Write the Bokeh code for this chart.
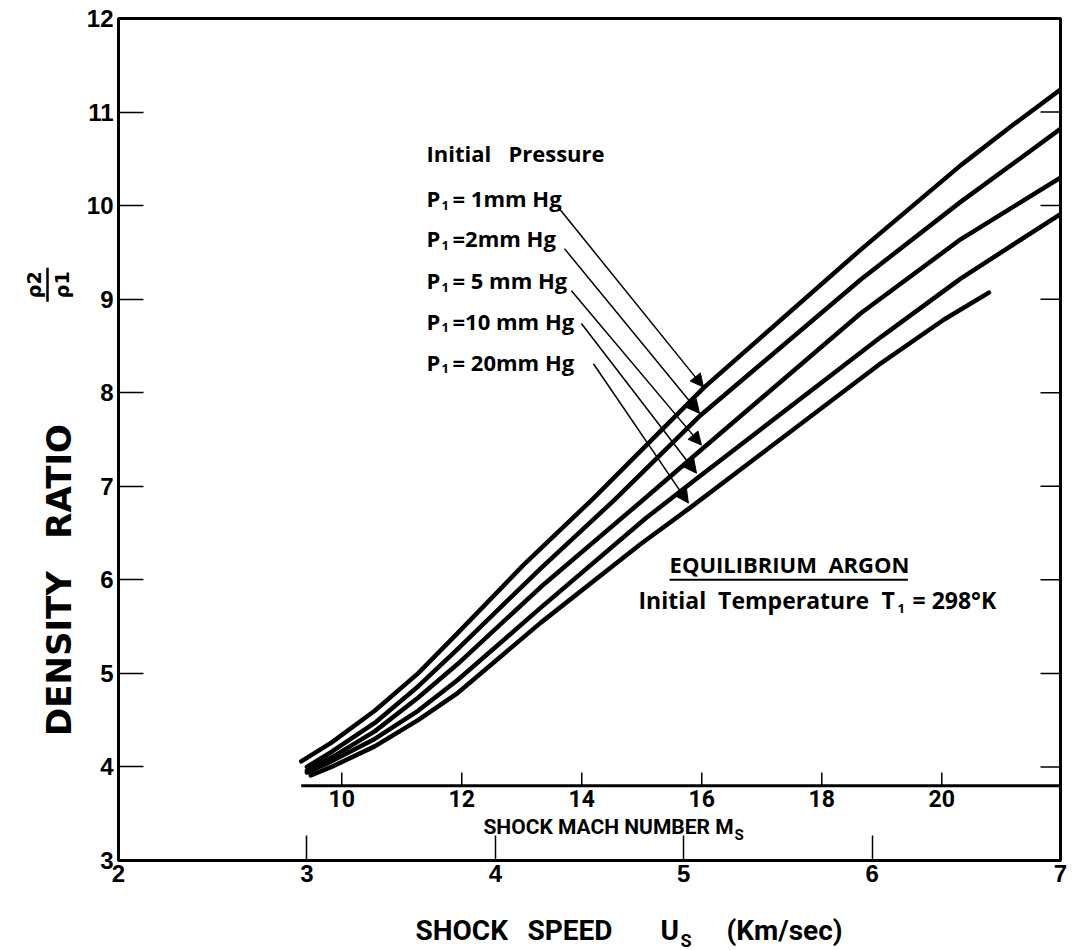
import math
from bokeh.plotting import figure
from bokeh.layouts import row, column
from bokeh.models import Label, FixedTicker, Arrow, NormalHead, Range1d
from bokeh.embed import file_html
from bokeh.resources import INLINE
from bokeh.core.properties import value

# ---------------- data ----------------
# Shock speed U_s (km/sec) vs density ratio rho2/rho1, equilibrium argon, T1 = 298 K
us_1mm = [2.97, 3.13, 3.36, 3.59, 3.80, 4.15, 4.51, 5.11, 5.94, 6.47, 6.74, 7.00]
rho_1mm = [4.06, 4.26, 4.60, 5.00, 5.43, 6.16, 6.85, 8.06, 9.53, 10.43, 10.85, 11.24]
us_2mm = [3.00, 3.13, 3.36, 3.59, 3.80, 4.24, 4.63, 5.09, 5.94, 6.47, 7.00]
rho_2mm = [4.00, 4.16, 4.47, 4.86, 5.26, 6.12, 6.85, 7.76, 9.21, 10.04, 10.82]
us_5mm = [3.00, 3.13, 3.36, 3.59, 3.80, 4.24, 4.77, 5.11, 5.94, 6.47, 7.00]
rho_5mm = [3.96, 4.10, 4.38, 4.74, 5.10, 5.92, 6.83, 7.42, 8.85, 9.64, 10.30]
us_10mm = [3.00, 3.13, 3.36, 3.59, 3.80, 4.24, 4.80, 5.08, 6.05, 6.47, 7.00]
rho_10mm = [3.94, 4.06, 4.30, 4.60, 4.93, 5.70, 6.66, 7.10, 8.60, 9.22, 9.91]
us_20mm = [3.02, 3.13, 3.36, 3.59, 3.80, 4.24, 4.77, 5.04, 6.05, 6.38, 6.62]
rho_20mm = [3.91, 4.00, 4.22, 4.50, 4.79, 5.54, 6.38, 6.78, 8.32, 8.78, 9.07]

pressure_labels = ["= 1mm Hg", "=2mm Hg", "= 5 mm Hg", "=10 mm Hg", "= 20mm Hg"]
label_rho = [10.08, 9.65, 9.20, 8.77, 8.33]

# arrows from each pressure label to its curve
arrow_from_us = [4.335, 4.367, 4.404, 4.457, 4.521]
arrow_from_rho = [9.98, 9.54, 9.09, 8.74, 8.31]
arrow_to_us = [5.105, 5.084, 5.094, 5.068, 5.025]
arrow_to_rho = [8.06, 7.78, 7.44, 7.14, 6.82]

# secondary scale: shock Mach number M_s = U_s / a1
mach_numbers = [10, 12, 14, 16, 18, 20]
mach_labels = ["10", "12", "14", "16", "18", "20"]
sound_speed_a1 = 0.3185  # km/sec
mach_axis_rho = 3.80
mach_axis_start = 2.97

x_ticks = [2, 3, 4, 5, 6, 7]
y_ticks = [3, 4, 5, 6, 7, 8, 9, 10, 11, 12]
right_ticks = [4, 5, 6, 7, 8, 9, 10, 11]

TICK_FONT = "Liberation Sans"
BOLD_FONT = "Open Sans"
COND_FONT = "Roboto"
WIDE_FONT = "DejaVu Sans"
NB = "\u00a0"

LEFT_W = 82
MAIN_W = 1072 - LEFT_W
MAIN_H = 895
BOTTOM_H = 950 - MAIN_H

# ---------------- main figure ----------------
p = figure(width=MAIN_W, height=MAIN_H, x_range=Range1d(2, 7), y_range=Range1d(3, 12),
           output_backend="svg", toolbar_location=None,
           min_border_left=118 - LEFT_W, min_border_right=12, min_border_top=18,
           min_border_bottom=MAIN_H - 860,
           background_fill_color="white", border_fill_color="white")
p.grid.visible = False
p.outline_line_color = "black"
p.outline_line_width = 3

for ax in (p.xaxis[0], p.yaxis[0]):
    ax.major_tick_in = 25
    ax.major_tick_out = 0
    ax.minor_tick_line_color = None
    ax.major_tick_line_width = 1.5
    ax.major_tick_line_color = "black"
    ax.axis_line_width = 3
    ax.major_label_text_font = TICK_FONT
    ax.major_label_text_font_style = "bold"
    ax.major_label_text_font_size = "24px"
    ax.major_label_text_color = "black"
p.xaxis.ticker = FixedTicker(ticks=x_ticks)
p.yaxis.ticker = FixedTicker(ticks=y_ticks)
p.xaxis.major_label_standoff = 4
p.yaxis.major_label_standoff = 5

# inward ticks on the right-hand frame edge
tick_len_units = 20 / 188.4
p.segment(x0=[7 - tick_len_units] * len(right_ticks), y0=right_ticks,
          x1=[7] * len(right_ticks), y1=right_ticks, line_width=1.5, color="black")

# curves
for xs, ys in ((us_1mm, rho_1mm), (us_2mm, rho_2mm), (us_5mm, rho_5mm),
               (us_10mm, rho_10mm), (us_20mm, rho_20mm)):
    p.line(xs, ys, line_width=4.5, color="black", line_join="round", line_cap="round")

# arrows
for xs, ys, xe, ye in zip(arrow_from_us, arrow_from_rho, arrow_to_us, arrow_to_rho):
    p.add_layout(Arrow(end=NormalHead(size=13, fill_color="black", line_color="black", line_width=1),
                       x_start=xs, y_start=ys, x_end=xe, y_end=ye,
                       line_width=1.5, line_color="black"))

# Mach number scale
mach_us = [m * sound_speed_a1 for m in mach_numbers]
p.segment(x0=[mach_axis_start], y0=[mach_axis_rho], x1=[7.0], y1=[mach_axis_rho],
          line_width=3, color="black")
p.segment(x0=mach_us, y0=[mach_axis_rho] * len(mach_us), x1=mach_us,
          y1=[mach_axis_rho + 0.14] * len(mach_us), line_width=1.5, color="black")
p.text(x=mach_us, y=[mach_axis_rho - 0.05] * len(mach_us), text=mach_labels,
       text_align="center", text_baseline="top", text_font=value(COND_FONT),
       text_font_style="bold", text_font_size="23px", text_color="black")


def lab(fig, x, y, t, size, font=BOLD_FONT, align="left", baseline="middle", angle=0, xo=0, yo=0):
    fig.add_layout(Label(x=x, y=y, text=t, text_font=font, text_font_style="bold",
                         text_font_size=size, text_align=align, text_baseline=baseline,
                         angle=angle, x_offset=xo, y_offset=yo, text_color="black"))


lab(p, 3.937, 3.36, "SHOCK MACH NUMBER M", "21px", font=COND_FONT)
lab(p, 3.937, 3.36, "S", "15px", font=COND_FONT, xo=251, yo=-8)

# annotation text
lab(p, 3.635, 10.56, f"Initial{NB}{NB}{NB}Pressure", "22px")
for t, y in zip(pressure_labels, label_rho):
    lab(p, 3.635, y, "P", "22px")
    lab(p, 3.635, y, "1", "13px", xo=15, yo=-7)
    lab(p, 3.635, y, t, "22px", xo=26)

lab(p, 4.925, 6.17, f"EQUILIBRIUM{NB}{NB}ARGON", "22px")
p.segment(x0=[4.925], y0=[6.0], x1=[6.19], y1=[6.0], line_width=2, color="black")
lab(p, 4.76, 5.78, f"Initial{NB}{NB}Temperature", "23px")
lab(p, 6.05, 5.78, "T", "23px")
lab(p, 6.05, 5.78, "1", "13px", xo=16, yo=-8)
lab(p, 6.05, 5.78, "= 298°K", "23px", xo=31)

# ---------------- left strip: y-axis title ----------------
left = figure(width=LEFT_W, height=MAIN_H, x_range=Range1d(0, LEFT_W), y_range=Range1d(0, MAIN_H),
              x_axis_type=None, y_axis_type=None, output_backend="svg", toolbar_location=None,
              min_border=0, outline_line_color=None)
left.grid.visible = False
left.text(x=[58, 58], y=[MAIN_H - 675, MAIN_H - 492], text=["DENSITY", "RATIO"], angle=math.pi / 2,
          text_align="center", text_baseline="middle", text_font=value(WIDE_FONT),
          text_font_style="bold", text_font_size="34px", text_color="black")
left.text(x=[33, 61], y=[MAIN_H - 283] * 2, text=["ρ2", "ρ1"], angle=math.pi / 2,
          text_align="center", text_baseline="middle", text_font=value(WIDE_FONT),
          text_font_style="bold", text_font_size="19px", text_color="black")
left.segment(x0=[47], y0=[MAIN_H - 283 - 18], x1=[47], y1=[MAIN_H - 283 + 18],
             line_width=2.5, color="black")

# ---------------- bottom strip: x-axis title ----------------
bottom = figure(width=1072, height=BOTTOM_H, x_range=Range1d(0, 1072), y_range=Range1d(0, BOTTOM_H),
                x_axis_type=None, y_axis_type=None, output_backend="svg", toolbar_location=None,
                min_border=0, outline_line_color=None)
bottom.grid.visible = False
ty = BOTTOM_H - (930 - MAIN_H)
bottom.text(x=[415, 527, 660, 726], y=[ty] * 4,
            text=["SHOCK", "SPEED", "U", "(Km/sec)"],
            text_align="left", text_baseline="middle", text_font=value(COND_FONT),
            text_font_style="bold", text_font_size="28px", text_color="black")
bottom.text(x=[680], y=[ty - 10], text=["S"], text_align="left", text_baseline="middle",
            text_font=value(COND_FONT), text_font_style="bold", text_font_size="18px",
            text_color="black")

layout = column(row(left, p, spacing=0), bottom, spacing=0)
open("out.html", "w").write(file_html(layout, INLINE))
